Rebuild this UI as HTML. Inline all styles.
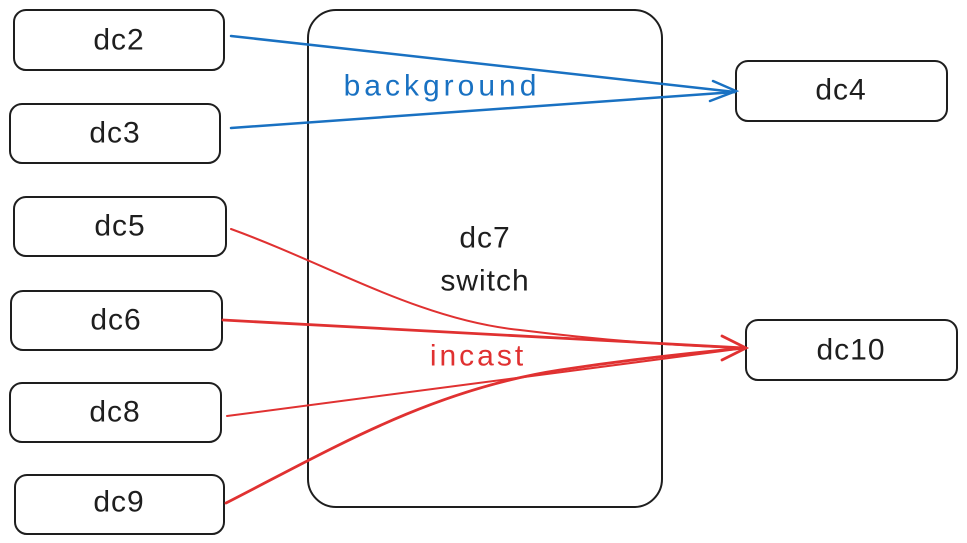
<!DOCTYPE html>
<html><head><meta charset="utf-8"><style>
html,body{margin:0;padding:0;background:#fff;width:967px;height:543px;overflow:hidden}
svg text{font-family:"Liberation Sans",sans-serif;font-size:30px;fill:#1e1e1e;text-anchor:middle;dominant-baseline:central;letter-spacing:1px}
</style></head><body>
<svg width="967" height="543" viewBox="0 0 967 543" xmlns="http://www.w3.org/2000/svg">
<g fill="none" stroke="#1e1e1e" stroke-width="2">
<rect x="14" y="10" width="210" height="60" rx="12"/>
<rect x="10" y="104" width="210" height="59" rx="12"/>
<rect x="14" y="197" width="212" height="59" rx="12"/>
<rect x="11" y="291" width="211" height="59" rx="12"/>
<rect x="10" y="383" width="211" height="59" rx="12"/>
<rect x="15" y="475" width="209" height="59" rx="12"/>
<rect x="308" y="10" width="354" height="497" rx="28"/>
<rect x="736" y="61" width="211" height="60" rx="12"/>
<rect x="746" y="320" width="211" height="60" rx="12"/>
</g>
<text x="119" y="40">dc2</text>
<text x="115" y="133">dc3</text>
<text x="120" y="226">dc5</text>
<text x="116" y="320">dc6</text>
<text x="115" y="412">dc8</text>
<text x="119" y="502">dc9</text>
<text x="841" y="90">dc4</text>
<text x="851" y="350">dc10</text>
<text x="485" y="238">dc7</text>
<text x="485" y="281">switch</text>
<g fill="none" stroke="#1971c2" stroke-width="2.5" stroke-linecap="round">
<path d="M231 36 L735 92"/>
<path d="M231 128 L735 92"/>
<path d="M713 81 L736 91 L710 101"/>
</g>
<text x="442" y="86" style="fill:#1971c2;letter-spacing:4px">background</text>
<g fill="none" stroke="#e03131" stroke-width="2" stroke-linecap="round">
<path d="M231 229 C 330 265, 420 320, 520 330 C 600 340, 680 346, 745 348"/>
<path d="M223 320 L745 348" stroke-width="2.8"/>
<path d="M227 416 L745 348"/>
<path d="M226 503 C 330 450, 430 390, 560 370 C 640 358, 700 352, 745 348" stroke-width="2.8"/>
<path d="M722 336 L746 348 L722 360" stroke-width="2.8"/>
</g>
<text x="478" y="356" style="fill:#e03131;letter-spacing:3px">incast</text>
</svg>
</body></html>
